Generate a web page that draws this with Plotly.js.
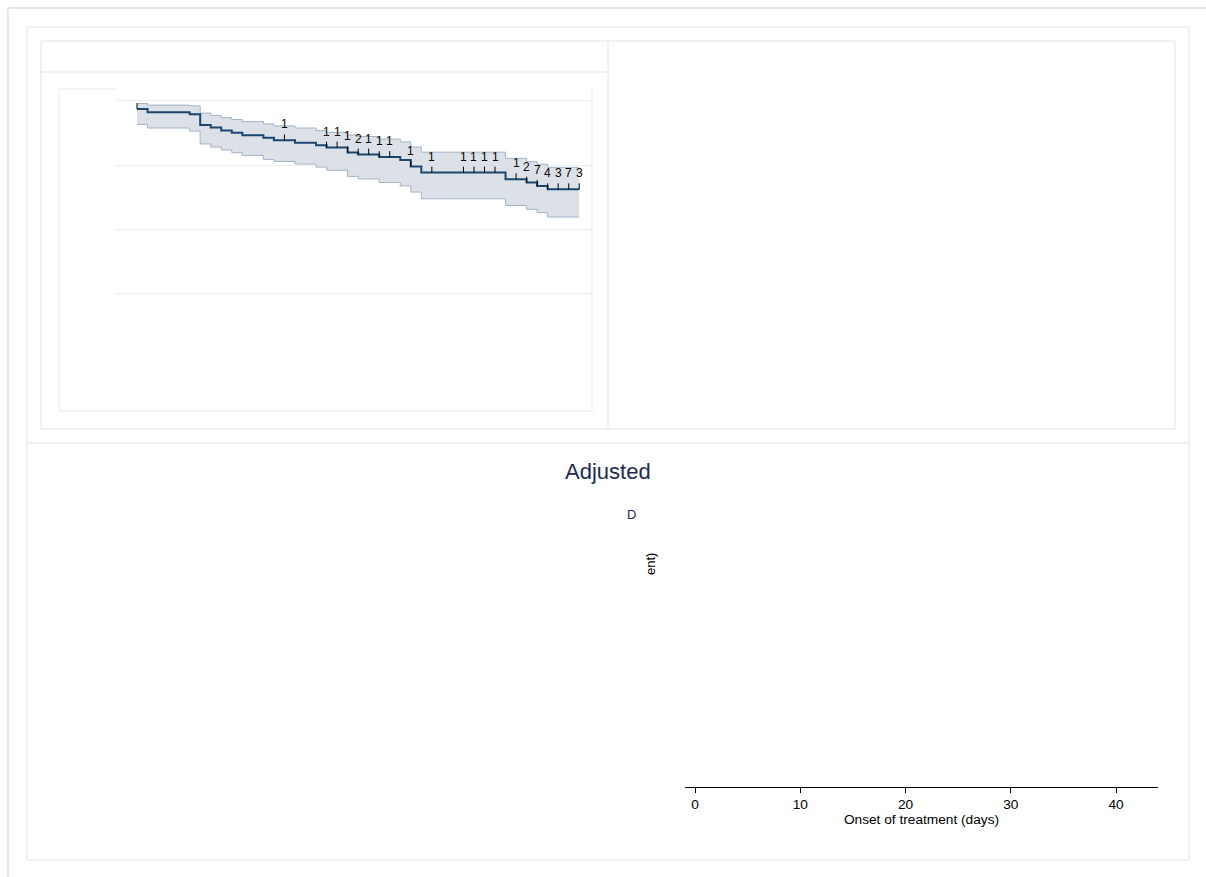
<!DOCTYPE html>
<html><head><meta charset="utf-8">
<script src="https://cdn.plot.ly/plotly-3.0.1.min.js"></script>
<style>html,body{margin:0;padding:0;background:#fff}#chart{width:1206px;height:877px}</style>
</head><body><div id="chart"></div>
<script>
// ---- data ----
const stepDays  = [1,2,6,7,8,9,10,11,13,14,16,18,19,21,22,24,26,27,28,36,38,39,40];
const endDay    = 43;
const survival  = [0.969,0.956,0.948,0.907,0.897,0.885,0.877,0.867,0.857,0.847,0.838,0.828,0.819,0.800,0.792,0.782,0.771,0.745,0.722,0.696,0.683,0.670,0.657];
const upperCI   = [0.990,0.984,0.981,0.953,0.944,0.935,0.928,0.920,0.911,0.903,0.895,0.885,0.878,0.868,0.862,0.852,0.841,0.821,0.801,0.777,0.764,0.754,0.742];
const lowerCI   = [0.909,0.895,0.883,0.833,0.821,0.810,0.799,0.788,0.773,0.765,0.755,0.743,0.731,0.707,0.697,0.683,0.670,0.646,0.620,0.594,0.579,0.566,0.549];
const censorDays   = [1,15,19,20,21,22,23,24,25,27,29,32,33,34,35,37,38,39,40,41,42,43];
const censorLabels = ['','1','1','1','1','2','1','1','1','1','1','1','1','1','1','1','2','7','4','3','7','3'];
const gridValues = [0.25,0.5,0.75,1];
const axisTicks  = [0,10,20,30,40];
const mainTitle  = 'Adjusted';
const xTitle     = 'Onset of treatment (days)';
const stubY      = 'D';
const stubY2     = 'ent)';

// ---- helpers ----
const W = 1206, H = 877;
const px = x => x / W;
const py = y => 1 - y / H;
const ext = a => a.concat([a[a.length - 1]]);
const stepX = stepDays.concat([endDay]);
function survAt(d) {
  let v = survival[0];
  for (let i = 0; i < stepDays.length; i++) if (stepDays[i] <= d) v = survival[i];
  return v;
}
const tickLen = 0.023;
const tx = [], ty = [];
censorDays.forEach(d => { const s = survAt(d); tx.push(d, d, null); ty.push(s, s + tickLen, null); });

const FONT = 'Arial, Liberation Sans, sans-serif';
const navy = '#1a476f';
const edge = '#a3b3c5';
const band = 'rgba(220,225,232,1)';

const traces = [
  {x: stepX, y: ext(upperCI), mode: 'lines', line: {shape: 'hv', color: edge, width: 1}, xaxis: 'x', yaxis: 'y', hoverinfo: 'skip', showlegend: false},
  {x: stepX, y: ext(lowerCI), mode: 'lines', line: {shape: 'hv', color: edge, width: 1}, fill: 'tonexty', fillcolor: band, xaxis: 'x', yaxis: 'y', hoverinfo: 'skip', showlegend: false},
  {x: stepX, y: ext(survival), mode: 'lines', line: {shape: 'hv', color: navy, width: 2}, xaxis: 'x', yaxis: 'y', showlegend: false},
  {x: tx, y: ty, mode: 'lines', line: {color: '#000', width: 1}, xaxis: 'x', yaxis: 'y', hoverinfo: 'skip', showlegend: false},
  {x: [0, 40], y: [0, 0], mode: 'none', xaxis: 'x2', yaxis: 'y2', hoverinfo: 'skip', showlegend: false}
];

const annotations = [];
censorDays.forEach((d, i) => {
  if (!censorLabels[i]) return;
  annotations.push({x: d, y: survAt(d), xref: 'x', yref: 'y', yshift: 16, showarrow: false,
    text: censorLabels[i], font: {size: 12, color: '#000', family: FONT}});
});
annotations.push(
  {x: px(608), y: py(471), xref: 'paper', yref: 'paper', showarrow: false, text: mainTitle, font: {size: 22, color: '#1d2b53', family: FONT}},
  {x: px(632), y: py(514), xref: 'paper', yref: 'paper', showarrow: false, text: stubY, font: {size: 13, color: '#1d2b53', family: FONT}},
  {x: px(650), y: py(564), xref: 'paper', yref: 'paper', showarrow: false, textangle: -90, text: stubY2, font: {size: 13, color: '#000', family: FONT}}
);

const fc = '#e9eef1';
const seg = (x0, y0, x1, y1, c, w) => ({type: 'line', xref: 'paper', yref: 'paper', x0: px(x0), y0: py(y0), x1: px(x1), y1: py(y1), line: {color: c || fc, width: w || 1.5}, layer: 'below'});
const shapes = [
  seg(8, 8, 1206, 8, '#e2e9ee', 2), seg(8, 8, 8, 877, '#e2e9ee', 2),
  seg(27, 27, 1189, 27), seg(27, 27, 27, 860), seg(1189, 27, 1189, 860), seg(27, 860, 1189, 860), seg(27, 443, 1189, 443),
  seg(41, 41, 1175, 41), seg(41, 41, 41, 429), seg(1175, 41, 1175, 429), seg(41, 429, 1175, 429), seg(608, 41, 608, 429),
  seg(41, 72, 608, 72),
  seg(59, 89, 116, 89, '#eef2f4', 1.5), seg(59, 89, 59, 411, '#eef2f4', 1.5), seg(59, 411, 592, 411, '#eef2f4', 1.5), seg(592, 89, 592, 411, '#eef2f4', 1.5)
];

const layout = {
  width: W, height: H,
  margin: {l: 0, r: 0, t: 0, b: 0},
  paper_bgcolor: '#fff', plot_bgcolor: 'rgba(0,0,0,0)',
  font: {family: FONT, color: '#000'},
  showlegend: false,
  xaxis: {domain: [px(116), px(592)], range: [-0.997, 44.21], showgrid: false, zeroline: false, showline: false, showticklabels: false, ticks: '', anchor: 'y'},
  yaxis: {domain: [py(411), py(89)], range: [-0.2048, 1.0466], tickvals: gridValues, showgrid: true, gridcolor: '#e8eef1', gridwidth: 1, zeroline: false, showline: false, showticklabels: false, ticks: '', anchor: 'x'},
  xaxis2: {domain: [px(685), px(1158)], range: [-0.95, 43.99], anchor: 'y2', showgrid: false, zeroline: false, showline: true, linecolor: '#000', linewidth: 1,
    ticks: 'outside', ticklen: 5, tickcolor: '#000', tickwidth: 1, tickvals: axisTicks, tickfont: {size: 13.7, color: '#000', family: FONT},
    title: {text: xTitle, font: {size: 13.7, color: '#000', family: FONT}, standoff: 0}},
  yaxis2: {domain: [py(787), py(600)], range: [0, 1], visible: false, anchor: 'x2'},
  annotations: annotations,
  shapes: shapes
};

Plotly.newPlot('chart', traces, layout, {staticPlot: true, displayModeBar: false});
</script>
</body></html>
